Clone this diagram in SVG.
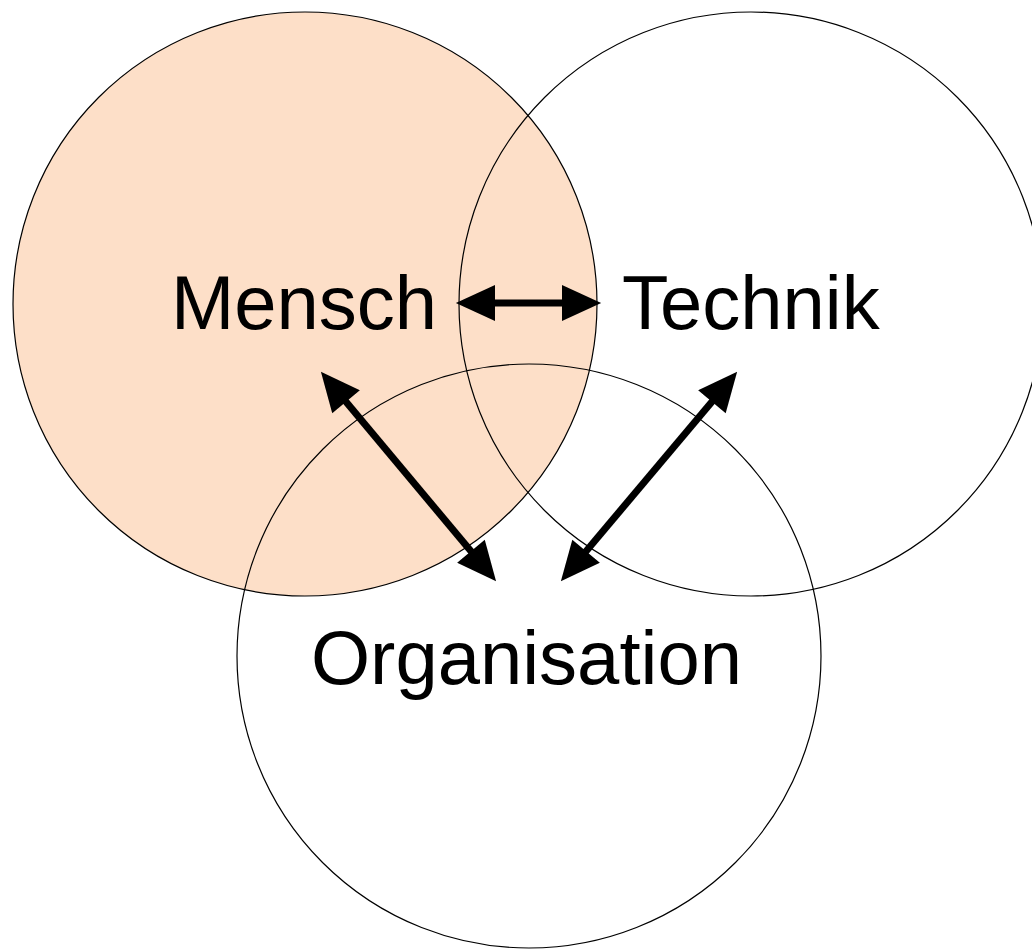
<svg xmlns="http://www.w3.org/2000/svg" width="1032" height="949" viewBox="0 0 1032 949">
<style>
.c{fill:none;stroke:#000;stroke-width:1.2}
.l{font-family:"Liberation Sans",Arial,sans-serif;font-size:76px;fill:#000}
.a{stroke:#000;stroke-width:7;fill:none;marker-start:url(#h);marker-end:url(#h)}
</style>
<defs>
<marker id="h" markerUnits="userSpaceOnUse" markerWidth="40" markerHeight="36" viewBox="0 0 37 34" refX="17" refY="17" orient="auto-start-reverse">
<path d="M0,0 L37,17 L0,34 z" fill="#000"/>
</marker>
</defs>
<rect width="1032" height="949" fill="#fff"/>
<g id="mensch">
<circle cx="305" cy="304" r="292" fill="#FDDFC8" stroke="#000" stroke-width="1.2"/>
</g>
<g id="technik">
<circle class="c" cx="751" cy="304" r="292"/>
</g>
<g id="organisation">
<circle class="c" cx="529" cy="656" r="292"/>
</g>
<g id="labels">
<text class="l" x="171" y="329">Mensch</text>
<text class="l" x="622" y="329">Technik</text>
<text class="l" x="311" y="684">Organisation</text>
</g>
<g id="connectors">
<line class="a" x1="477" y1="303" x2="580" y2="303"/>
<line class="a" x1="334.5" y1="388" x2="482.5" y2="565"/>
<line class="a" x1="723.5" y1="388" x2="574.5" y2="565"/>
</g>
</svg>
